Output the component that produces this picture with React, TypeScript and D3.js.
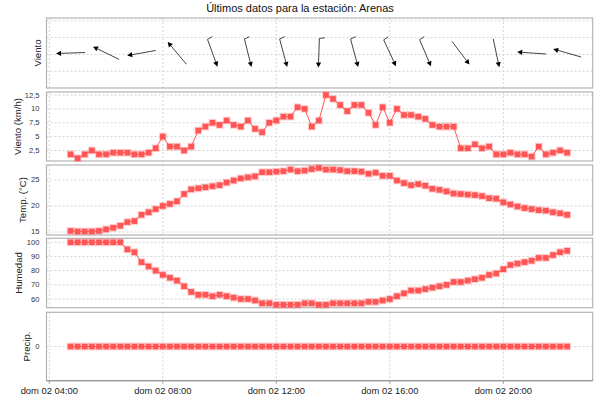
import * as d3 from "d3";

// 15-minute readings for dom 02, 04:45 → 22:15
const START = new Date(2024, 5, 2, 4, 45);
const STEP_MIN = 15;

const WIND = [
  1.8, 1.1, 1.8, 2.5, 1.8, 1.8, 2.1, 2.1, 2.1, 1.8,
  1.8, 2.1, 2.9, 5.0, 3.2, 3.2, 2.5, 3.2, 6.1, 6.8,
  7.5, 7.1, 7.9, 7.1, 6.8, 7.9, 6.4, 5.8, 7.5, 7.9,
  8.6, 8.6, 10.3, 10.0, 6.8, 7.9, 12.5, 11.8, 10.7, 9.6,
  10.7, 10.7, 9.3, 7.1, 10.3, 7.5, 10.0, 8.9, 8.9, 8.6,
  8.2, 7.1, 6.8, 6.8, 6.8, 2.9, 2.9, 3.6, 2.9, 3.2,
  1.8, 1.8, 2.1, 1.8, 1.8, 1.4, 3.2, 1.8, 2.1, 2.5,
  2.1,
];

const TEMP = [
  15.2, 15.1, 15.1, 15.1, 15.2, 15.5, 15.8, 16.2, 16.9, 17.1,
  18.3, 18.8, 19.4, 20.0, 20.4, 20.9, 22.3, 23.2, 23.4, 23.6,
  23.8, 24.0, 24.5, 24.9, 25.3, 25.5, 25.7, 26.5, 26.5, 26.6,
  26.7, 27.0, 26.7, 26.8, 27.1, 27.3, 27.0, 27.0, 26.9, 26.7,
  26.7, 26.6, 26.2, 26.4, 25.8, 25.8, 24.9, 24.4, 24.0, 24.2,
  23.9, 23.3, 23.1, 22.8, 22.4, 22.3, 22.2, 22.1, 21.9, 21.5,
  21.4, 20.7, 20.3, 19.9, 19.6, 19.4, 19.2, 19.1, 18.8, 18.6,
  18.3,
];

const HUM = [
  100, 100, 100, 100, 100, 100, 100, 100, 95, 93,
  86, 83, 80, 77, 75, 73, 69, 65, 63, 63,
  62, 63, 62, 61, 60, 60, 59, 57, 57, 56,
  56, 56, 56, 57, 57, 56, 56, 57, 57, 57,
  57, 57, 58, 58, 59, 60, 62, 64, 66, 66,
  67, 68, 69, 70, 72, 72, 73, 74, 75, 77,
  78, 81, 84, 85, 86, 87, 89, 89, 91, 93,
  94,
];

const PRECIP = [
  0, 0, 0, 0, 0, 0, 0, 0, 0, 0,
  0, 0, 0, 0, 0, 0, 0, 0, 0, 0,
  0, 0, 0, 0, 0, 0, 0, 0, 0, 0,
  0, 0, 0, 0, 0, 0, 0, 0, 0, 0,
  0, 0, 0, 0, 0, 0, 0, 0, 0, 0,
  0, 0, 0, 0, 0, 0, 0, 0, 0, 0,
  0, 0, 0, 0, 0, 0, 0, 0, 0, 0,
  0,
];

// wind direction (degrees, "from"), one arrow every 5th reading
const DIR_EVERY = 5;
const WIND_DIR = [88, 116, 80, 140, 340, 346, 345, 2, 345, 335, 337, 323, 348, 94, 106];

const X_TICKS = [4, 8, 12, 16, 20].map((h) => new Date(2024, 5, 2, h));

const TIMES = WIND.map((_, i) => d3.timeMinute.offset(START, i * STEP_MIN));

const FONT = "'Liberation Sans', Arial, sans-serif";
const RED = "#ff5555";
const GRID = "#d4d4d4";
const BORDER = "#b4b4b4";
const LEFT = 46.5;
const RIGHT = 592.7;

const es = d3.timeFormatLocale({
  dateTime: "%A, %e de %B de %Y, %X",
  date: "%d/%m/%Y",
  time: "%H:%M:%S",
  periods: ["AM", "PM"],
  days: ["domingo", "lunes", "martes", "miércoles", "jueves", "viernes", "sábado"],
  shortDays: ["dom", "lun", "mar", "mié", "jue", "vie", "sáb"],
  months: ["enero", "febrero", "marzo", "abril", "mayo", "junio", "julio", "agosto", "septiembre", "octubre", "noviembre", "diciembre"],
  shortMonths: ["ene", "feb", "mar", "abr", "may", "jun", "jul", "ago", "sep", "oct", "nov", "dic"],
});
const fmtTime = es.format("%a %d %H:%M");
const fmtNum = (v: number) => String(v).replace(".", ",");

const x = d3
  .scaleTime()
  .domain([new Date(2024, 5, 2, 3, 54, 5), new Date(2024, 5, 2, 23, 9, 0)])
  .range([LEFT, RIGHT]);

type Panel = {
  top: number;
  bottom: number;
  domain: [number, number];
  ticks: number[];
  showTicks: boolean;
  label: string;
  labelX: number;
  values?: number[];
};

const PANELS: Panel[] = [
  { top: 18, bottom: 88, domain: [0, 4.17], ticks: [1, 2, 3, 4], showTicks: false, label: "Viento", labelX: 37.5 },
  { top: 92, bottom: 161, domain: [0.6, 13.05], ticks: [2.5, 5, 7.5, 10, 12.5], showTicks: true, label: "Viento (km/h)", labelX: 17, values: WIND },
  { top: 165, bottom: 235, domain: [14.42, 27.88], ticks: [15, 20, 25], showTicks: true, label: "Temp. (°C)", labelX: 22, values: TEMP },
  { top: 238.3, bottom: 307.7, domain: [53.9, 102.8], ticks: [60, 70, 80, 90, 100], showTicks: true, label: "Humedad", labelX: 18, values: HUM },
  { top: 312.3, bottom: 380.7, domain: [-1, 1], ticks: [0], showTicks: true, label: "Precip.", labelX: 26, values: PRECIP },
];

function SeriesPanel({ p }: { p: Panel }) {
  const y = d3.scaleLinear().domain(p.domain).range([p.bottom, p.top]);
  const line = d3
    .line<number>()
    .x((_, i) => x(TIMES[i]))
    .y((d) => y(d));
  const mid = (p.top + p.bottom) / 2;
  return (
    <g>
      <rect x={LEFT} y={p.top} width={RIGHT - LEFT} height={p.bottom - p.top} fill="#fff" />
      {/* gridlines */}
      {X_TICKS.map((t, i) => (
        <line key={`gx${i}`} x1={x(t)} x2={x(t)} y1={p.top} y2={p.bottom} stroke={GRID} strokeDasharray="2 2" />
      ))}
      {p.ticks.map((t, i) => (
        <line key={`gy${i}`} x1={LEFT} x2={RIGHT} y1={y(t)} y2={y(t)} stroke={GRID} strokeDasharray="2 2" />
      ))}
      {p.showTicks &&
        p.ticks.map((t, i) => (
          <text key={`ty${i}`} x={39.5} y={y(t)} textAnchor="end" dominantBaseline="central" fontSize={7.6} fill="#333">
            {fmtNum(t)}
          </text>
        ))}
      <rect x={LEFT} y={p.top} width={RIGHT - LEFT} height={p.bottom - p.top} fill="none" stroke={BORDER} strokeWidth={1.2} />
      <text
        transform={`translate(${p.labelX},${mid}) rotate(-90)`}
        textAnchor="middle"
        dominantBaseline="central"
        fontSize={9.6}
        fill="#222"
      >
        {p.label}
      </text>
      {p.values && (
        <>
          <path d={line(p.values) ?? ""} fill="none" stroke={RED} strokeWidth={1} />
          {p.values.map((v, i) => (
            <rect
              key={i}
              x={x(TIMES[i]) - 2.8}
              y={y(v) - 2.8}
              width={5.6}
              height={5.6}
              fill={RED}
              stroke={RED}
              strokeOpacity={0.3}
              strokeWidth={2}
            />
          ))}
        </>
      )}
    </g>
  );
}

function WindArrows({ p }: { p: Panel }) {
  const cy = (p.top + p.bottom) / 2;
  const half = 14.5;
  const headLen = 5;
  const headW = 2.6;
  const rot = (80 * Math.PI) / 180;
  return (
    <g>
      {WIND_DIR.map((deg, k) => {
        const i = k * DIR_EVERY;
        const cx = x(TIMES[i]);
        const a = ((deg + 180) * Math.PI) / 180;
        const vx = Math.sin(a);
        const vy = -Math.cos(a);
        const tx = cx - vx * half;
        const ty = cy - vy * half;
        const hx = cx + vx * half;
        const hy = cy + vy * half;
        const bx = hx - vx * headLen;
        const by = hy - vy * headLen;
        const px = -vy;
        const py = vx;
        // feather on the tail for the stronger readings
        const fbx = -vx;
        const fby = -vy;
        const fx = fbx * Math.cos(rot) - fby * Math.sin(rot);
        const fy = fbx * Math.sin(rot) + fby * Math.cos(rot);
        return (
          <g key={k}>
            <line x1={tx} y1={ty} x2={bx} y2={by} stroke="#444" strokeWidth={1} />
            <polygon
              points={`${hx},${hy} ${bx + px * headW},${by + py * headW} ${bx - px * headW},${by - py * headW}`}
              fill="#000"
            />
            {WIND[i] > 5 && (
              <line x1={tx} y1={ty} x2={tx + fx * 5.5} y2={ty + fy * 5.5} stroke="#444" strokeWidth={1} />
            )}
          </g>
        );
      })}
    </g>
  );
}

export default function App() {
  const last = PANELS[PANELS.length - 1];
  return (
    <svg
      width={600}
      height={400}
      style={{ position: "absolute", left: 0, top: 0, background: "#fff" }}
      fontFamily={FONT}
    >
      <rect width={600} height={400} fill="#fff" />
      <text x={300} y={11.5} textAnchor="middle" fontSize={11} fill="#111">
        Últimos datos para la estación: Arenas
      </text>
      {PANELS.map((p, i) => (
        <SeriesPanel key={i} p={p} />
      ))}
      <WindArrows p={PANELS[0]} />
      {/* time axis */}
      <line x1={LEFT} x2={RIGHT} y1={last.bottom} y2={last.bottom} stroke="#999" strokeWidth={1.2} />
      {X_TICKS.map((t, i) => (
        <g key={i}>
          <line x1={x(t)} x2={x(t)} y1={last.bottom} y2={last.bottom + 3} stroke="#999" />
          <text x={x(t)} y={390.5} textAnchor="middle" dominantBaseline="central" fontSize={9.4} fill="#222">
            {fmtTime(t)}
          </text>
        </g>
      ))}
    </svg>
  );
}
